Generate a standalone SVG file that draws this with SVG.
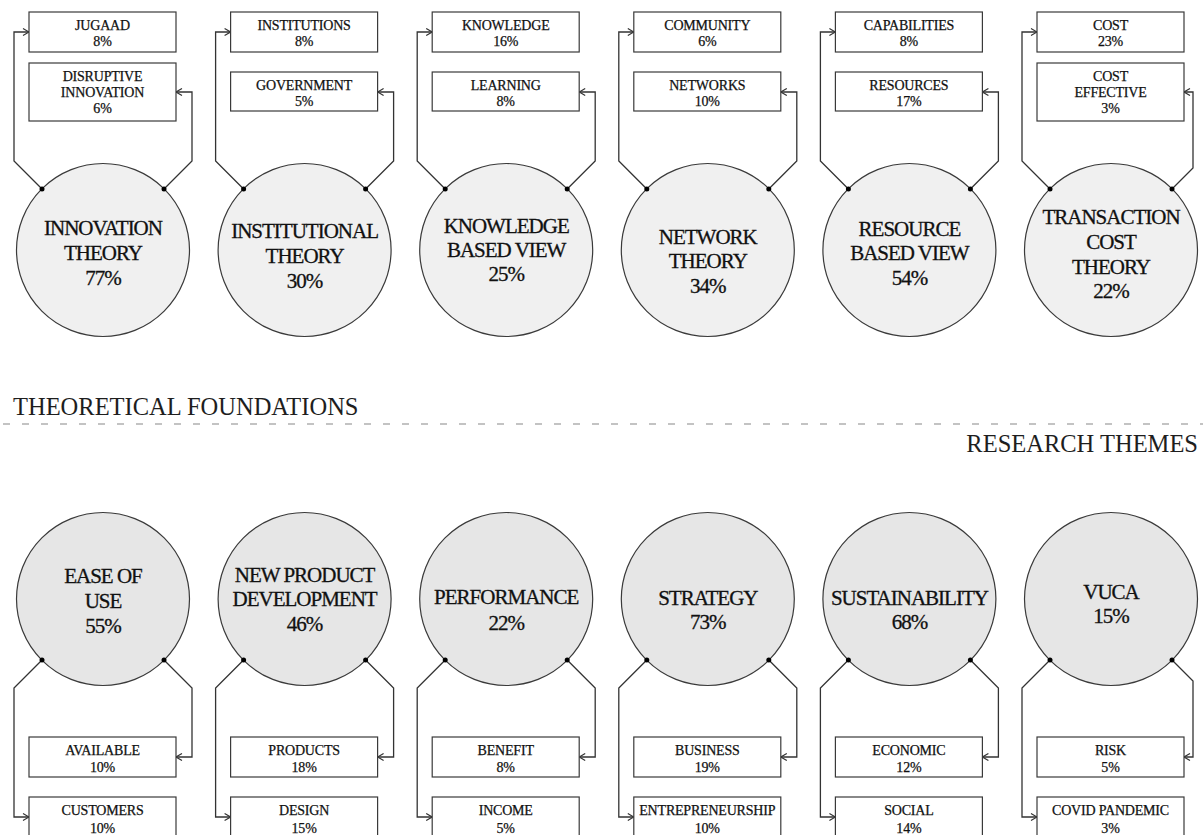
<svg xmlns="http://www.w3.org/2000/svg" width="1203" height="835" viewBox="0 0 1203 835" font-family="'Liberation Serif', 'DejaVu Serif', serif">
<defs>
<style>
.bg{fill:#ffffff}
.ct{fill:#f0f0f0;stroke:#3a3a3a;stroke-width:1.2}
.cb{fill:#e6e6e6;stroke:#3a3a3a;stroke-width:1.2}
.bx{fill:#ffffff;stroke:#3a3a3a;stroke-width:1.2}
.ln{fill:none;stroke:#333333;stroke-width:1.3;marker-end:url(#arr)}
.dot{fill:#000000}
.big{font-family:'Liberation Serif','DejaVu Serif',serif;font-size:21px;letter-spacing:-1px;fill:#111111;stroke:#111111;stroke-width:0.3;text-anchor:middle}
.sm{font-family:'Liberation Serif','DejaVu Serif',serif;font-size:14px;letter-spacing:-0.2px;fill:#111111;stroke:#111111;stroke-width:0.25;text-anchor:middle}
.hd{font-family:'Liberation Serif','DejaVu Serif',serif;font-size:24.5px;fill:#1e1e1e}
.dash{stroke:#b0b0b0;stroke-width:1.3;stroke-dasharray:7 12}
</style>
<marker id="arr" viewBox="0 0 8 8" refX="7.5" refY="4" markerWidth="8" markerHeight="8" markerUnits="userSpaceOnUse" orient="auto">
<path d="M1.5,0.5 L7.5,4 L1.5,7.5" fill="none" stroke="#333333" stroke-width="1.2"/>
</marker>
</defs>
<rect class="bg" x="0" y="0" width="1203" height="835"/>

<g id="connectors">
<path class="ln" d="M42,189 L14,161 L14,32 L29,32"/>
<path class="ln" d="M164,189 L192,161 L192,92 L176,92"/>
<path class="ln" d="M243.6,189 L215.6,161 L215.6,32 L230.6,32"/>
<path class="ln" d="M365.6,189 L393.6,161 L393.6,92 L377.6,92"/>
<path class="ln" d="M445.2,189 L417.2,161 L417.2,32 L432.2,32"/>
<path class="ln" d="M567.2,189 L595.2,161 L595.2,92 L579.2,92"/>
<path class="ln" d="M646.8,189 L618.8,161 L618.8,32 L633.8,32"/>
<path class="ln" d="M768.8,189 L796.8,161 L796.8,92 L780.8,92"/>
<path class="ln" d="M848.4,189 L820.4,161 L820.4,32 L835.4,32"/>
<path class="ln" d="M970.4,189 L998.4,161 L998.4,92 L982.4,92"/>
<path class="ln" d="M1050,189 L1022,161 L1022,32 L1037,32"/>
<path class="ln" d="M1172,189 L1193,168 L1193,92 L1184,92"/>
<path class="ln" d="M42,660 L14,688 L14,817 L29,817"/>
<path class="ln" d="M164,660 L192,688 L192,757 L176,757"/>
<path class="ln" d="M243.6,660 L215.6,688 L215.6,817 L230.6,817"/>
<path class="ln" d="M365.6,660 L393.6,688 L393.6,757 L377.6,757"/>
<path class="ln" d="M445.2,660 L417.2,688 L417.2,817 L432.2,817"/>
<path class="ln" d="M567.2,660 L595.2,688 L595.2,757 L579.2,757"/>
<path class="ln" d="M646.8,660 L618.8,688 L618.8,817 L633.8,817"/>
<path class="ln" d="M768.8,660 L796.8,688 L796.8,757 L780.8,757"/>
<path class="ln" d="M848.4,660 L820.4,688 L820.4,817 L835.4,817"/>
<path class="ln" d="M970.4,660 L998.4,688 L998.4,757 L982.4,757"/>
<path class="ln" d="M1050,660 L1022,688 L1022,817 L1037,817"/>
<path class="ln" d="M1172,660 L1193,681 L1193,757 L1184,757"/>
</g>

<g id="innovation-theory">
<circle class="ct" cx="103" cy="250" r="86.5"/>
<text class="big" x="103" y="235">INNOVATION</text>
<text class="big" x="103" y="260">THEORY</text>
<text class="big" x="103" y="285">77%</text>
</g>
<g id="institutional-theory">
<circle class="ct" cx="304.6" cy="250" r="86.5"/>
<text class="big" x="304.6" y="238">INSTITUTIONAL</text>
<text class="big" x="304.6" y="263">THEORY</text>
<text class="big" x="304.6" y="288">30%</text>
</g>
<g id="knowledge-based-view">
<circle class="ct" cx="506.2" cy="250" r="86.5"/>
<text class="big" x="506.2" y="233">KNOWLEDGE</text>
<text class="big" x="506.2" y="257">BASED VIEW</text>
<text class="big" x="506.2" y="281">25%</text>
</g>
<g id="network-theory">
<circle class="ct" cx="707.8" cy="250" r="86.5"/>
<text class="big" x="707.8" y="244">NETWORK</text>
<text class="big" x="707.8" y="268">THEORY</text>
<text class="big" x="707.8" y="293">34%</text>
</g>
<g id="resource-based-view">
<circle class="ct" cx="909.4" cy="250" r="86.5"/>
<text class="big" x="909.4" y="236">RESOURCE</text>
<text class="big" x="909.4" y="260">BASED VIEW</text>
<text class="big" x="909.4" y="285">54%</text>
</g>
<g id="transaction-cost-theory">
<circle class="ct" cx="1111" cy="250" r="86.5"/>
<text class="big" x="1111" y="224">TRANSACTION</text>
<text class="big" x="1111" y="249">COST</text>
<text class="big" x="1111" y="274">THEORY</text>
<text class="big" x="1111" y="298">22%</text>
</g>

<g id="jugaad"><rect class="bx" x="29" y="12" width="147" height="40"/><text class="sm" x="102.5" y="29.5">JUGAAD</text><text class="sm" x="102.5" y="46">8%</text></g>
<g id="disruptive-innovation"><rect class="bx" x="29" y="63" width="147" height="58"/><text class="sm" x="102.5" y="81">DISRUPTIVE</text><text class="sm" x="102.5" y="97">INNOVATION</text><text class="sm" x="102.5" y="113">6%</text></g>
<g id="institutions"><rect class="bx" x="230.6" y="12" width="147" height="40"/><text class="sm" x="304.1" y="29.5">INSTITUTIONS</text><text class="sm" x="304.1" y="46">8%</text></g>
<g id="government"><rect class="bx" x="230.6" y="72" width="147" height="39"/><text class="sm" x="304.1" y="90">GOVERNMENT</text><text class="sm" x="304.1" y="106">5%</text></g>
<g id="knowledge"><rect class="bx" x="432.2" y="12" width="147" height="40"/><text class="sm" x="505.7" y="29.5">KNOWLEDGE</text><text class="sm" x="505.7" y="46">16%</text></g>
<g id="learning"><rect class="bx" x="432.2" y="72" width="147" height="39"/><text class="sm" x="505.7" y="90">LEARNING</text><text class="sm" x="505.7" y="106">8%</text></g>
<g id="community"><rect class="bx" x="633.8" y="12" width="147" height="40"/><text class="sm" x="707.3" y="29.5">COMMUNITY</text><text class="sm" x="707.3" y="46">6%</text></g>
<g id="networks"><rect class="bx" x="633.8" y="72" width="147" height="39"/><text class="sm" x="707.3" y="90">NETWORKS</text><text class="sm" x="707.3" y="106">10%</text></g>
<g id="capabilities"><rect class="bx" x="835.4" y="12" width="147" height="40"/><text class="sm" x="908.9" y="29.5">CAPABILITIES</text><text class="sm" x="908.9" y="46">8%</text></g>
<g id="resources"><rect class="bx" x="835.4" y="72" width="147" height="39"/><text class="sm" x="908.9" y="90">RESOURCES</text><text class="sm" x="908.9" y="106">17%</text></g>
<g id="cost"><rect class="bx" x="1037" y="12" width="147" height="40"/><text class="sm" x="1110.5" y="29.5">COST</text><text class="sm" x="1110.5" y="46">23%</text></g>
<g id="cost-effective"><rect class="bx" x="1037" y="63" width="147" height="58"/><text class="sm" x="1110.5" y="81">COST</text><text class="sm" x="1110.5" y="97">EFFECTIVE</text><text class="sm" x="1110.5" y="113">3%</text></g>

<g id="divider">
<line class="dash" x1="3" y1="424" x2="1203" y2="424"/>
<text class="hd" x="13" y="415">THEORETICAL FOUNDATIONS</text>
<text class="hd" x="1198" y="452" text-anchor="end">RESEARCH THEMES</text>
</g>

<g id="ease-of-use">
<circle class="cb" cx="103" cy="599" r="86.5"/>
<text class="big" x="103" y="583">EASE OF</text>
<text class="big" x="103" y="608">USE</text>
<text class="big" x="103" y="633">55%</text>
</g>
<g id="new-product-development">
<circle class="cb" cx="304.6" cy="599" r="86.5"/>
<text class="big" x="304.6" y="582">NEW PRODUCT</text>
<text class="big" x="304.6" y="606">DEVELOPMENT</text>
<text class="big" x="304.6" y="631">46%</text>
</g>
<g id="performance">
<circle class="cb" cx="506.2" cy="599" r="86.5"/>
<text class="big" x="506.2" y="604">PERFORMANCE</text>
<text class="big" x="506.2" y="630">22%</text>
</g>
<g id="strategy">
<circle class="cb" cx="707.8" cy="599" r="86.5"/>
<text class="big" x="707.8" y="605">STRATEGY</text>
<text class="big" x="707.8" y="629">73%</text>
</g>
<g id="sustainability">
<circle class="cb" cx="909.4" cy="599" r="86.5"/>
<text class="big" x="909.4" y="605">SUSTAINABILITY</text>
<text class="big" x="909.4" y="629">68%</text>
</g>
<g id="vuca">
<circle class="cb" cx="1111" cy="599" r="86.5"/>
<text class="big" x="1111" y="599">VUCA</text>
<text class="big" x="1111" y="623">15%</text>
</g>

<g id="available"><rect class="bx" x="29" y="737" width="147" height="40"/><text class="sm" x="102.5" y="755">AVAILABLE</text><text class="sm" x="102.5" y="772">10%</text></g>
<g id="customers"><rect class="bx" x="29" y="797" width="147" height="40"/><text class="sm" x="102.5" y="815">CUSTOMERS</text><text class="sm" x="102.5" y="833">10%</text></g>
<g id="products"><rect class="bx" x="230.6" y="737" width="147" height="40"/><text class="sm" x="304.1" y="755">PRODUCTS</text><text class="sm" x="304.1" y="772">18%</text></g>
<g id="design"><rect class="bx" x="230.6" y="797" width="147" height="40"/><text class="sm" x="304.1" y="815">DESIGN</text><text class="sm" x="304.1" y="833">15%</text></g>
<g id="benefit"><rect class="bx" x="432.2" y="737" width="147" height="40"/><text class="sm" x="505.7" y="755">BENEFIT</text><text class="sm" x="505.7" y="772">8%</text></g>
<g id="income"><rect class="bx" x="432.2" y="797" width="147" height="40"/><text class="sm" x="505.7" y="815">INCOME</text><text class="sm" x="505.7" y="833">5%</text></g>
<g id="business"><rect class="bx" x="633.8" y="737" width="147" height="40"/><text class="sm" x="707.3" y="755">BUSINESS</text><text class="sm" x="707.3" y="772">19%</text></g>
<g id="entrepreneurship"><rect class="bx" x="633.8" y="797" width="147" height="40"/><text class="sm" x="707.3" y="815">ENTREPRENEURSHIP</text><text class="sm" x="707.3" y="833">10%</text></g>
<g id="economic"><rect class="bx" x="835.4" y="737" width="147" height="40"/><text class="sm" x="908.9" y="755">ECONOMIC</text><text class="sm" x="908.9" y="772">12%</text></g>
<g id="social"><rect class="bx" x="835.4" y="797" width="147" height="40"/><text class="sm" x="908.9" y="815">SOCIAL</text><text class="sm" x="908.9" y="833">14%</text></g>
<g id="risk"><rect class="bx" x="1037" y="737" width="147" height="40"/><text class="sm" x="1110.5" y="755">RISK</text><text class="sm" x="1110.5" y="772">5%</text></g>
<g id="covid-pandemic"><rect class="bx" x="1037" y="797" width="147" height="40"/><text class="sm" x="1110.5" y="815">COVID PANDEMIC</text><text class="sm" x="1110.5" y="833">3%</text></g>

<g id="dots">
<circle class="dot" cx="42" cy="189" r="2.5"/><circle class="dot" cx="164" cy="189" r="2.5"/>
<circle class="dot" cx="243.6" cy="189" r="2.5"/><circle class="dot" cx="365.6" cy="189" r="2.5"/>
<circle class="dot" cx="445.2" cy="189" r="2.5"/><circle class="dot" cx="567.2" cy="189" r="2.5"/>
<circle class="dot" cx="646.8" cy="189" r="2.5"/><circle class="dot" cx="768.8" cy="189" r="2.5"/>
<circle class="dot" cx="848.4" cy="189" r="2.5"/><circle class="dot" cx="970.4" cy="189" r="2.5"/>
<circle class="dot" cx="1050" cy="189" r="2.5"/><circle class="dot" cx="1172" cy="189" r="2.5"/>
<circle class="dot" cx="42" cy="660" r="2.5"/><circle class="dot" cx="164" cy="660" r="2.5"/>
<circle class="dot" cx="243.6" cy="660" r="2.5"/><circle class="dot" cx="365.6" cy="660" r="2.5"/>
<circle class="dot" cx="445.2" cy="660" r="2.5"/><circle class="dot" cx="567.2" cy="660" r="2.5"/>
<circle class="dot" cx="646.8" cy="660" r="2.5"/><circle class="dot" cx="768.8" cy="660" r="2.5"/>
<circle class="dot" cx="848.4" cy="660" r="2.5"/><circle class="dot" cx="970.4" cy="660" r="2.5"/>
<circle class="dot" cx="1050" cy="660" r="2.5"/><circle class="dot" cx="1172" cy="660" r="2.5"/>
</g>
</svg>
